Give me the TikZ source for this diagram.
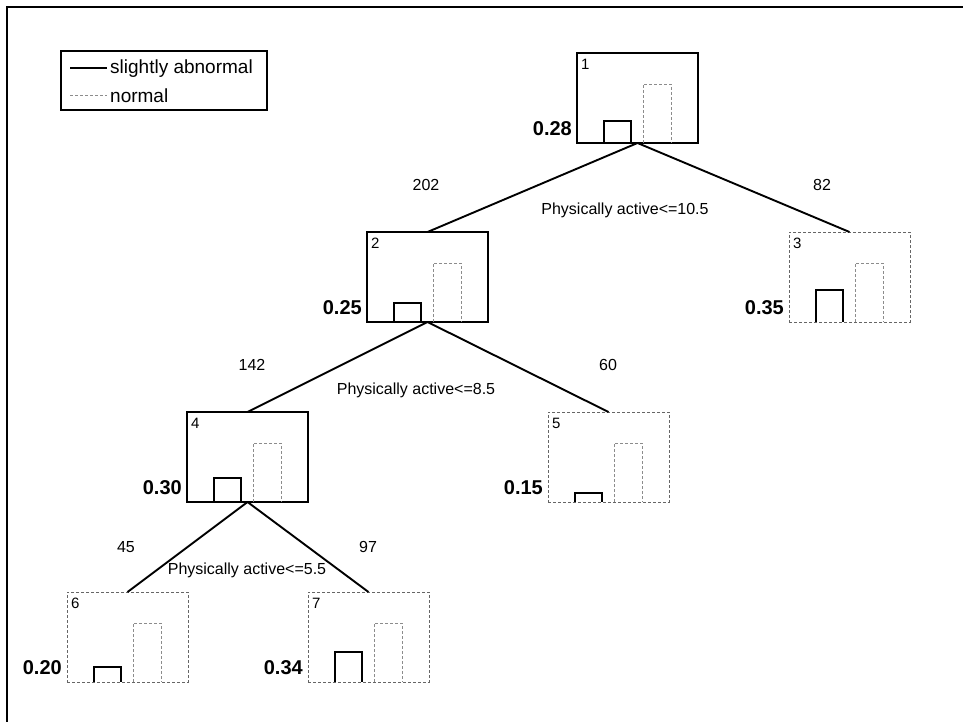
\documentclass[tikz,border=0pt]{standalone}
\usepackage{fontspec}
\setmainfont{Liberation Sans}
\newcommand\treebars[2]{%
  \draw[sbar] ([xshift=27pt]#1.south west) |- ([xshift=54pt,yshift=#2pt]#1.south west) -- ([xshift=54pt]#1.south west);
  \draw[dbar] ([xshift=66pt]#1.south west) |- ([xshift=94pt,yshift=59pt]#1.south west) -- ([xshift=94pt]#1.south west);
}
\begin{document}
\begin{tikzpicture}[x=1pt,y=-1pt,
  innerbox/.style={draw=black,line width=1.7pt,minimum width=121pt,minimum height=90pt,inner sep=0,outer sep=0,anchor=north west},
  leafbox/.style={draw=black!60,line width=0.9pt,dash pattern=on 3pt off 2pt,minimum width=121pt,minimum height=90pt,inner sep=0,outer sep=0,anchor=north west},
  sbar/.style={draw=black,line width=1.7pt},
  dbar/.style={draw=black!45,line width=0.9pt,dash pattern=on 3pt off 2pt},
  idlab/.style={font=\fontsize{15}{15}\selectfont,inner sep=0,anchor=north west},
  vallab/.style={font=\fontsize{20}{20}\selectfont\bfseries,inner sep=0,anchor=east},
  elab/.style={font=\fontsize{16}{16}\selectfont,inner sep=0},
  leglab/.style={font=\fontsize{19}{19}\selectfont,inner sep=0,anchor=west},
  link/.style={line width=1.9pt,black},
]
\useasboundingbox (0,0) rectangle (963,722);
% outer frame
\draw[line width=2pt] (7,722) -- (7,7) -- (963,7);

% legend
\node[draw,line width=1.5pt,minimum width=206pt,minimum height=59pt,anchor=north west,inner sep=0,outer sep=0] (legend) at (61,51) {};
\draw[line width=1.2pt] (70,68) -- (107,68);
\draw[dbar] (70,95) -- (107,95);
\node[leglab] (lg1) at (110,69) {slightly abnormal};
\node[leglab] (lg2) at (110,96) {normal};

% tree boxes
\node[innerbox] (n1) at (577,53) {};
\node[innerbox] (n2) at (367,232) {};
\node[leafbox]  (n3) at (789,232) {};
\node[innerbox] (n4) at (187,412) {};
\node[leafbox]  (n5) at (548,412) {};
\node[leafbox]  (n6) at (67,592) {};
\node[leafbox]  (n7) at (308,592) {};

% bars
\treebars{n1}{22}
\treebars{n2}{19}
\treebars{n3}{32}
\treebars{n4}{24}
\treebars{n5}{9}
\treebars{n6}{15}
\treebars{n7}{30}

% ids
\foreach \n in {1,...,7}{
  \node[idlab] (id\n) at ([xshift=4pt,yshift=-6pt]n\n.north west) {\n};
}

% values
\node[vallab] (v1) at ([xshift=-5pt,yshift=14pt]n1.south west) {0.28};
\node[vallab] (v2) at ([xshift=-5pt,yshift=14pt]n2.south west) {0.25};
\node[vallab] (v3) at ([xshift=-5pt,yshift=14pt]n3.south west) {0.35};
\node[vallab] (v4) at ([xshift=-5pt,yshift=14pt]n4.south west) {0.30};
\node[vallab] (v5) at ([xshift=-5pt,yshift=14pt]n5.south west) {0.15};
\node[vallab] (v6) at ([xshift=-5pt,yshift=14pt]n6.south west) {0.20};
\node[vallab] (v7) at ([xshift=-5pt,yshift=14pt]n7.south west) {0.34};

% connectors
\draw[link] (n1.south) -- (n2.north);
\draw[link] (n1.south) -- (n3.north);
\draw[link] (n2.south) -- (n4.north);
\draw[link] (n2.south) -- (n5.north);
\draw[link] (n4.south) -- (n6.north);
\draw[link] (n4.south) -- (n7.north);

% edge labels
\node[elab] (e12) at (426,185) {202};
\node[elab] (e13) at (822,185) {82};
\node[elab] (s1)  at (625,210) {Physically active<=10.5};
\node[elab] (e24) at (252,365) {142};
\node[elab] (e25) at (608,365) {60};
\node[elab] (s2)  at (416,390) {Physically active<=8.5};
\node[elab] (e46) at (126,547) {45};
\node[elab] (e47) at (368,547) {97};
\node[elab] (s4)  at (247,570) {Physically active<=5.5};
\end{tikzpicture}
\end{document}
